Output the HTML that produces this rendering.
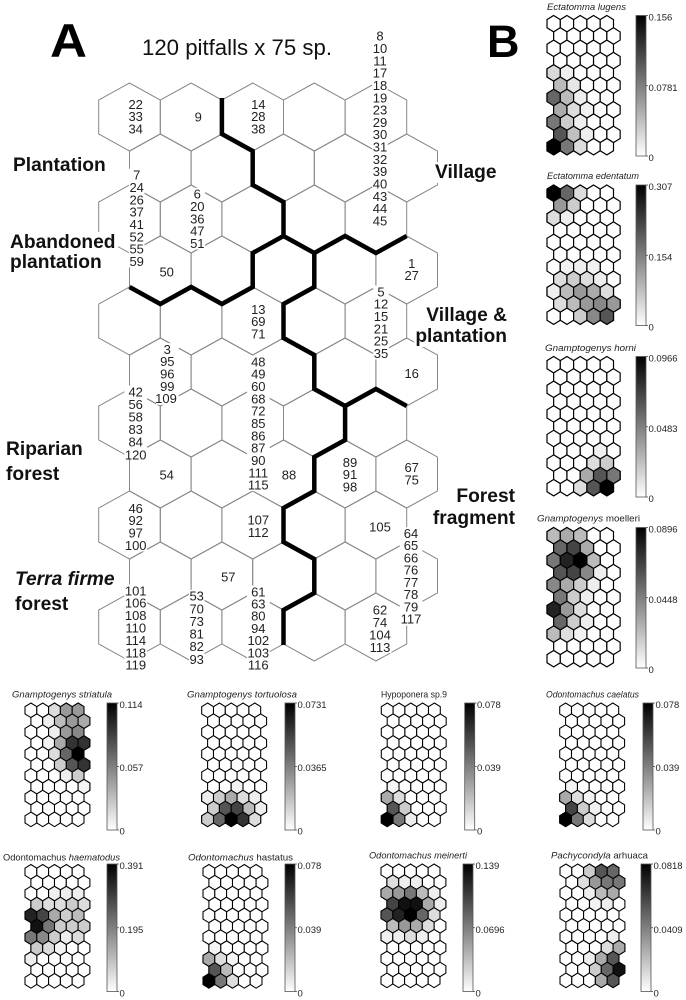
<!DOCTYPE html>
<html><head><meta charset="utf-8"><style>
html,body{margin:0;padding:0;background:#fff;}
svg{display:block;}
.n{font-family:"Liberation Sans",Arial,sans-serif;font-size:13px;fill:#222;text-anchor:middle;}
.r{font-family:"Liberation Sans",Arial,sans-serif;font-size:19.2px;font-weight:bold;fill:#111;}
.e{text-anchor:end;}
.t{font-family:"Liberation Sans",Arial,sans-serif;font-size:9.5px;fill:#222;}
.cl{font-family:"Liberation Sans",Arial,sans-serif;font-size:9.5px;fill:#222;}
.i{font-style:italic;}
</style></head><body>
<svg width="686" height="1000" viewBox="0 0 686 1000" xmlns="http://www.w3.org/2000/svg">
<defs>
<path id="H" d="M0,-34L30.8,-17L30.8,17L0,34L-30.8,17L-30.8,-17Z"/>
<g id="HR"><use href="#H" x="0"/><use href="#H" x="61.6"/><use href="#H" x="123.2"/><use href="#H" x="184.8"/><use href="#H" x="246.4"/></g>
<path id="h" d="M0,-8.2L6.65,-4.1L6.65,4.1L0,8.2L-6.65,4.1L-6.65,-4.1Z" stroke="#000" stroke-width="1.2"/>
<g id="w5"><use href="#h" x="0"/><use href="#h" x="13.3"/><use href="#h" x="26.6"/><use href="#h" x="39.9"/><use href="#h" x="53.2"/></g>
<g id="g11">
<use href="#w5" x="6.65" y="8.2"/><use href="#w5" x="13.3" y="20.5"/><use href="#w5" x="6.65" y="32.8"/><use href="#w5" x="13.3" y="45.1"/><use href="#w5" x="6.65" y="57.4"/><use href="#w5" x="13.3" y="69.7"/><use href="#w5" x="6.65" y="82"/><use href="#w5" x="13.3" y="94.3"/><use href="#w5" x="6.65" y="106.6"/><use href="#w5" x="13.3" y="118.9"/><use href="#w5" x="6.65" y="131.2"/>
</g>
<linearGradient id="cg" x1="0" y1="0" x2="0" y2="1"><stop offset="0" stop-color="#000"/><stop offset="1" stop-color="#fff"/></linearGradient>
</defs>
<rect width="686" height="1000" fill="#fff"/>

<!-- Panel A -->
<text x="50" y="57" font-family="Liberation Sans, Arial, sans-serif" font-size="47" font-weight="bold" fill="#000" textLength="37" lengthAdjust="spacingAndGlyphs">A</text>
<text x="487" y="57" font-family="Liberation Sans, Arial, sans-serif" font-size="45" font-weight="bold" fill="#000">B</text>
<text x="142" y="55" font-family="Liberation Sans, Arial, sans-serif" font-size="22" fill="#111" textLength="190" lengthAdjust="spacingAndGlyphs">120 pitfalls x 75 sp.</text>

<g fill="none" stroke="#888" stroke-width="1">
<use href="#HR" x="129.5" y="117"/>
<use href="#HR" x="160.3" y="168"/>
<use href="#HR" x="129.5" y="219"/>
<use href="#HR" x="160.3" y="270"/>
<use href="#HR" x="129.5" y="321"/>
<use href="#HR" x="160.3" y="372"/>
<use href="#HR" x="129.5" y="423"/>
<use href="#HR" x="160.3" y="474"/>
<use href="#HR" x="129.5" y="525"/>
<use href="#HR" x="160.3" y="576"/>
<use href="#HR" x="129.5" y="627"/>
</g>

<g fill="none" stroke="#000" stroke-width="4.5" stroke-linejoin="miter">
<path d="M221.9,98 V134 L252.7,151 V185 L283.5,202 V236 L252.7,253 V287 L221.9,304 L191.1,287 L160.3,304 L129.5,287"/>
<path d="M283.5,236 L314.3,253 L345.1,236 L375.9,253 L406.7,236"/>
<path d="M314.3,253 V287 L283.5,304 V338 L314.3,355 V389 L345.1,406 L375.9,389 L406.7,406"/>
<path d="M345.1,406 V440 L314.3,457 V491 L283.5,508 V542 L314.3,559 V593 L283.5,610 V645"/>
</g>

<!-- white backgrounds for number lists -->
<g fill="#fff">
<rect x="127.9" y="98.1" width="15.6" height="37"/>
<rect x="194.2" y="110.5" width="8.2" height="12.4"/>
<rect x="250.5" y="98.1" width="15.6" height="37"/>
<rect x="372.2" y="29.8" width="15.6" height="197.3"/>
<rect x="128.9" y="168.8" width="15.6" height="98.6"/>
<rect x="189.5" y="187.8" width="15.6" height="61.7"/>
<rect x="158.9" y="265.5" width="15.6" height="12.4"/>
<rect x="403.9" y="257.1" width="15.6" height="24.7"/>
<rect x="373.2" y="285.5" width="15.6" height="74"/>
<rect x="250.5" y="303.1" width="15.6" height="37"/>
<rect x="156" y="343.1" width="22.7" height="61.7"/>
<rect x="247" y="355.5" width="22.7" height="135.6"/>
<rect x="403.9" y="367.1" width="15.6" height="12.4"/>
<rect x="124.4" y="385.5" width="22.7" height="74"/>
<rect x="158.9" y="468.8" width="15.6" height="12.4"/>
<rect x="281.2" y="468.8" width="15.6" height="12.4"/>
<rect x="342.2" y="456.1" width="15.6" height="37"/>
<rect x="403.9" y="461.3" width="15.6" height="24.7"/>
<rect x="124.4" y="502.1" width="22.7" height="49.3"/>
<rect x="247" y="513.8" width="22.7" height="24.7"/>
<rect x="368.7" y="520.5" width="22.7" height="12.4"/>
<rect x="399.7" y="527.1" width="22.7" height="98.6"/>
<rect x="220.5" y="570.5" width="15.6" height="12.4"/>
<rect x="124.4" y="584.5" width="22.7" height="86.3"/>
<rect x="188.9" y="589.8" width="15.6" height="74"/>
<rect x="247" y="585.5" width="22.7" height="86.3"/>
<rect x="368.7" y="603.8" width="22.7" height="49.3"/>
</g>

<!-- number lists -->
<text class="n" y="108.9"><tspan x="135.7">22</tspan><tspan x="135.7" dy="12.33">33</tspan><tspan x="135.7" dy="12.33">34</tspan></text>
<text class="n" x="198.3" y="121.3">9</text>
<text class="n" y="108.9"><tspan x="258.3">14</tspan><tspan x="258.3" dy="12.33">28</tspan><tspan x="258.3" dy="12.33">38</tspan></text>
<text class="n" y="40.6"><tspan x="380">8</tspan><tspan x="380" dy="12.33">10</tspan><tspan x="380" dy="12.33">11</tspan><tspan x="380" dy="12.33">17</tspan><tspan x="380" dy="12.33">18</tspan><tspan x="380" dy="12.33">19</tspan><tspan x="380" dy="12.33">23</tspan><tspan x="380" dy="12.33">29</tspan><tspan x="380" dy="12.33">30</tspan><tspan x="380" dy="12.33">31</tspan><tspan x="380" dy="12.33">32</tspan><tspan x="380" dy="12.33">39</tspan><tspan x="380" dy="12.33">40</tspan><tspan x="380" dy="12.33">43</tspan><tspan x="380" dy="12.33">44</tspan><tspan x="380" dy="12.33">45</tspan></text>
<text class="n" y="179.6"><tspan x="136.7">7</tspan><tspan x="136.7" dy="12.33">24</tspan><tspan x="136.7" dy="12.33">26</tspan><tspan x="136.7" dy="12.33">37</tspan><tspan x="136.7" dy="12.33">41</tspan><tspan x="136.7" dy="12.33">52</tspan><tspan x="136.7" dy="12.33">55</tspan><tspan x="136.7" dy="12.33">59</tspan></text>
<text class="n" y="198.6"><tspan x="197.3">6</tspan><tspan x="197.3" dy="12.33">20</tspan><tspan x="197.3" dy="12.33">36</tspan><tspan x="197.3" dy="12.33">47</tspan><tspan x="197.3" dy="12.33">51</tspan></text>
<text class="n" x="166.7" y="276.3">50</text>
<text class="n" y="267.9"><tspan x="411.7">1</tspan><tspan x="411.7" dy="12.33">27</tspan></text>
<text class="n" y="296.3"><tspan x="381">5</tspan><tspan x="381" dy="12.33">12</tspan><tspan x="381" dy="12.33">15</tspan><tspan x="381" dy="12.33">21</tspan><tspan x="381" dy="12.33">25</tspan><tspan x="381" dy="12.33">35</tspan></text>
<text class="n" y="313.9"><tspan x="258.3">13</tspan><tspan x="258.3" dy="12.33">69</tspan><tspan x="258.3" dy="12.33">71</tspan></text>
<text class="n" y="353.9"><tspan x="167.3">3</tspan><tspan x="167.3" dy="12.33">95</tspan><tspan x="167.3" dy="12.33">96</tspan><tspan x="167.3" dy="12.33">99</tspan><tspan x="166" dy="12.33">109</tspan></text>
<text class="n" y="366.3"><tspan x="258.3">48</tspan><tspan x="258.3" dy="12.33">49</tspan><tspan x="258.3" dy="12.33">60</tspan><tspan x="258.3" dy="12.33">68</tspan><tspan x="258.3" dy="12.33">72</tspan><tspan x="258.3" dy="12.33">85</tspan><tspan x="258.3" dy="12.33">86</tspan><tspan x="258.3" dy="12.33">87</tspan><tspan x="258.3" dy="12.33">90</tspan><tspan x="258.3" dy="12.33">111</tspan><tspan x="258.3" dy="12.33">115</tspan></text>
<text class="n" x="411.7" y="377.9">16</text>
<text class="n" y="396.3"><tspan x="135.7">42</tspan><tspan x="135.7" dy="12.6">56</tspan><tspan x="135.7" dy="12.6">58</tspan><tspan x="135.7" dy="12.6">83</tspan><tspan x="135.7" dy="12.6">84</tspan><tspan x="135.7" dy="12.6">120</tspan></text>
<text class="n" x="166.7" y="479.6">54</text>
<text class="n" x="289" y="479.6">88</text>
<text class="n" y="466.9"><tspan x="350">89</tspan><tspan x="350" dy="12.33">91</tspan><tspan x="350" dy="12.33">98</tspan></text>
<text class="n" y="472.1"><tspan x="411.7">67</tspan><tspan x="411.7" dy="12.33">75</tspan></text>
<text class="n" y="512.9"><tspan x="135.7">46</tspan><tspan x="135.7" dy="12.33">92</tspan><tspan x="135.7" dy="12.33">97</tspan><tspan x="135.7" dy="12.33">100</tspan></text>
<text class="n" y="524.6"><tspan x="258.3">107</tspan><tspan x="258.3" dy="12.33">112</tspan></text>
<text class="n" x="380" y="531.3">105</text>
<text class="n" y="537.9"><tspan x="411">64</tspan><tspan x="411" dy="12.25">65</tspan><tspan x="411" dy="12.25">66</tspan><tspan x="411" dy="12.25">76</tspan><tspan x="411" dy="12.25">77</tspan><tspan x="411" dy="12.25">78</tspan><tspan x="411" dy="12.25">79</tspan><tspan x="411" dy="12.25">117</tspan></text>
<text class="n" x="228.3" y="581.3">57</text>
<text class="n" y="595.3"><tspan x="135.7">101</tspan><tspan x="135.7" dy="12.4">106</tspan><tspan x="135.7" dy="12.4">108</tspan><tspan x="135.7" dy="12.4">110</tspan><tspan x="135.7" dy="12.4">114</tspan><tspan x="135.7" dy="12.4">118</tspan><tspan x="135.7" dy="12.4">119</tspan></text>
<text class="n" y="600.6"><tspan x="196.7">53</tspan><tspan x="196.7" dy="12.66">70</tspan><tspan x="196.7" dy="12.66">73</tspan><tspan x="196.7" dy="12.66">81</tspan><tspan x="196.7" dy="12.66">82</tspan><tspan x="196.7" dy="12.66">93</tspan></text>
<text class="n" y="596.3"><tspan x="258.3">61</tspan><tspan x="258.3" dy="12.22">63</tspan><tspan x="258.3" dy="12.22">80</tspan><tspan x="258.3" dy="12.22">94</tspan><tspan x="258.3" dy="12.22">102</tspan><tspan x="258.3" dy="12.22">103</tspan><tspan x="258.3" dy="12.22">116</tspan></text>
<text class="n" y="614.6"><tspan x="380">62</tspan><tspan x="380" dy="12.4">74</tspan><tspan x="380" dy="12.4">104</tspan><tspan x="380" dy="12.4">113</tspan></text>

<!-- region labels -->
<g fill="#fff">
<rect x="11" y="155" width="98" height="19"/>
<rect x="8" y="232" width="110" height="19"/>
<rect x="8" y="252" width="96" height="21"/>
<rect x="4" y="439" width="81" height="21"/>
<rect x="4" y="464" width="57" height="19"/>
<rect x="13" y="569" width="104" height="20"/>
<rect x="13" y="594" width="57" height="19"/>
<rect x="433" y="162" width="66" height="21"/>
<rect x="424" y="306" width="85" height="19"/>
<rect x="414" y="326" width="95" height="21"/>
<rect x="455" y="487" width="62" height="18"/>
<rect x="431" y="508" width="86" height="21"/>
</g>
<text class="r" x="13" y="171">Plantation</text>
<text class="r" x="10" y="248">Abandoned</text>
<text class="r" x="10" y="268">plantation</text>
<text class="r" x="6" y="455">Riparian</text>
<text class="r" x="6" y="480">forest</text>
<text class="r i" x="15" y="585">Terra firme</text>
<text class="r" x="15" y="610">forest</text>
<text class="r" x="435" y="178">Village</text>
<text class="r e" x="507" y="321">Village &amp;</text>
<text class="r e" x="507" y="342">plantation</text>
<text class="r e" x="515" y="502">Forest</text>
<text class="r e" x="515" y="524">fragment</text>

<!-- Panel B maps: right column -->
<g transform="translate(547,15.5)" fill="#fff"><use href="#g11"/>
<use href="#h" x="6.65" y="57.4" fill="#d9d9d9"/><use href="#h" x="19.95" y="57.4" fill="#eee"/>
<use href="#h" x="13.3" y="69.7" fill="#bbb"/><use href="#h" x="26.6" y="69.7" fill="#e6e6e6"/>
<use href="#h" x="6.65" y="82" fill="#666"/><use href="#h" x="19.95" y="82" fill="#bbb"/><use href="#h" x="33.25" y="82" fill="#eee"/>
<use href="#h" x="13.3" y="94.3" fill="#aaa"/><use href="#h" x="26.6" y="94.3" fill="#ddd"/><use href="#h" x="39.9" y="94.3" fill="#f2f2f2"/>
<use href="#h" x="6.65" y="106.6" fill="#777"/><use href="#h" x="19.95" y="106.6" fill="#ccc"/><use href="#h" x="33.25" y="106.6" fill="#eee"/>
<use href="#h" x="13.3" y="118.9" fill="#555"/><use href="#h" x="26.6" y="118.9" fill="#c0c0c0"/><use href="#h" x="39.9" y="118.9" fill="#eee"/>
<use href="#h" x="6.65" y="131.2" fill="#000"/><use href="#h" x="19.95" y="131.2" fill="#777"/><use href="#h" x="33.25" y="131.2" fill="#ddd"/>
</g>
<g transform="translate(547,185)" fill="#fff"><use href="#g11"/>
<use href="#h" x="6.65" y="8.2" fill="#000"/><use href="#h" x="19.95" y="8.2" fill="#666"/><use href="#h" x="33.25" y="8.2" fill="#ddd"/>
<use href="#h" x="13.3" y="20.5" fill="#999"/><use href="#h" x="26.6" y="20.5" fill="#ccc"/>
<use href="#h" x="6.65" y="32.8" fill="#ddd"/><use href="#h" x="19.95" y="32.8" fill="#eee"/>
<use href="#h" x="19.95" y="82" fill="#f0f0f0"/><use href="#h" x="33.25" y="82" fill="#eee"/><use href="#h" x="46.55" y="82" fill="#f2f2f2"/>
<use href="#h" x="13.3" y="94.3" fill="#ddd"/><use href="#h" x="26.6" y="94.3" fill="#ccc"/><use href="#h" x="39.9" y="94.3" fill="#ddd"/><use href="#h" x="53.2" y="94.3" fill="#eee"/>
<use href="#h" x="6.65" y="106.6" fill="#eee"/><use href="#h" x="19.95" y="106.6" fill="#bbb"/><use href="#h" x="33.25" y="106.6" fill="#999"/><use href="#h" x="46.55" y="106.6" fill="#aaa"/><use href="#h" x="59.85" y="106.6" fill="#ddd"/>
<use href="#h" x="13.3" y="118.9" fill="#ddd"/><use href="#h" x="26.6" y="118.9" fill="#bbb"/><use href="#h" x="39.9" y="118.9" fill="#999"/><use href="#h" x="53.2" y="118.9" fill="#888"/><use href="#h" x="66.5" y="118.9" fill="#999"/>
<use href="#h" x="33.25" y="131.2" fill="#ccc"/><use href="#h" x="46.55" y="131.2" fill="#888"/><use href="#h" x="59.85" y="131.2" fill="#555"/>
</g>
<g transform="translate(547,356.5)" fill="#fff"><use href="#g11"/>
<use href="#h" x="53.2" y="94.3" fill="#f0f0f0"/>
<use href="#h" x="46.55" y="106.6" fill="#ddd"/><use href="#h" x="59.85" y="106.6" fill="#ccc"/>
<use href="#h" x="39.9" y="118.9" fill="#aaa"/><use href="#h" x="53.2" y="118.9" fill="#555"/><use href="#h" x="66.5" y="118.9" fill="#777"/>
<use href="#h" x="33.25" y="131.2" fill="#ddd"/><use href="#h" x="46.55" y="131.2" fill="#555"/><use href="#h" x="59.85" y="131.2" fill="#000"/>
</g>
<g transform="translate(547,527.5)" fill="#fff"><use href="#g11"/>
<use href="#h" x="6.65" y="8.2" fill="#bbb"/><use href="#h" x="19.95" y="8.2" fill="#aaa"/><use href="#h" x="33.25" y="8.2" fill="#bbb"/>
<use href="#h" x="13.3" y="20.5" fill="#666"/><use href="#h" x="26.6" y="20.5" fill="#444"/><use href="#h" x="39.9" y="20.5" fill="#aaa"/>
<use href="#h" x="6.65" y="32.8" fill="#777"/><use href="#h" x="19.95" y="32.8" fill="#222"/><use href="#h" x="33.25" y="32.8" fill="#000"/><use href="#h" x="46.55" y="32.8" fill="#bbb"/>
<use href="#h" x="13.3" y="45.1" fill="#555"/><use href="#h" x="26.6" y="45.1" fill="#444"/><use href="#h" x="39.9" y="45.1" fill="#888"/><use href="#h" x="53.2" y="45.1" fill="#eee"/>
<use href="#h" x="6.65" y="57.4" fill="#888"/><use href="#h" x="19.95" y="57.4" fill="#aaa"/><use href="#h" x="33.25" y="57.4" fill="#ccc"/><use href="#h" x="46.55" y="57.4" fill="#eee"/>
<use href="#h" x="13.3" y="69.7" fill="#777"/><use href="#h" x="26.6" y="69.7" fill="#ccc"/><use href="#h" x="39.9" y="69.7" fill="#eee"/>
<use href="#h" x="6.65" y="82" fill="#222"/><use href="#h" x="19.95" y="82" fill="#999"/><use href="#h" x="33.25" y="82" fill="#ddd"/>
<use href="#h" x="13.3" y="94.3" fill="#666"/><use href="#h" x="26.6" y="94.3" fill="#ccc"/><use href="#h" x="39.9" y="94.3" fill="#eee"/>
<use href="#h" x="6.65" y="106.6" fill="#bbb"/><use href="#h" x="19.95" y="106.6" fill="#ddd"/><use href="#h" x="33.25" y="106.6" fill="#f2f2f2"/>
</g>

<!-- bottom row 1 -->
<g transform="translate(25,703) scale(.887)" fill="#fff"><use href="#g11"/>
<use href="#h" x="33.25" y="8.2" fill="#ddd"/><use href="#h" x="46.55" y="8.2" fill="#999"/><use href="#h" x="59.85" y="8.2" fill="#999"/>
<use href="#h" x="26.6" y="20.5" fill="#eee"/><use href="#h" x="39.9" y="20.5" fill="#bbb"/><use href="#h" x="53.2" y="20.5" fill="#999"/><use href="#h" x="66.5" y="20.5" fill="#aaa"/>
<use href="#h" x="33.25" y="32.8" fill="#eee"/><use href="#h" x="46.55" y="32.8" fill="#999"/><use href="#h" x="59.85" y="32.8" fill="#888"/>
<use href="#h" x="26.6" y="45.1" fill="#f2f2f2"/><use href="#h" x="39.9" y="45.1" fill="#aaa"/><use href="#h" x="53.2" y="45.1" fill="#333"/><use href="#h" x="66.5" y="45.1" fill="#333"/>
<use href="#h" x="33.25" y="57.4" fill="#ddd"/><use href="#h" x="46.55" y="57.4" fill="#666"/><use href="#h" x="59.85" y="57.4" fill="#000"/>
<use href="#h" x="39.9" y="69.7" fill="#ccc"/><use href="#h" x="53.2" y="69.7" fill="#555"/><use href="#h" x="66.5" y="69.7" fill="#333"/>
<use href="#h" x="46.55" y="82" fill="#eee"/><use href="#h" x="59.85" y="82" fill="#ccc"/>
<use href="#h" x="66.5" y="94.3" fill="#f4f4f4"/>
</g>
<g transform="translate(201.7,703) scale(.887)" fill="#fff"><use href="#g11"/>
<use href="#h" x="39.9" y="94.3" fill="#f2f2f2"/>
<use href="#h" x="6.65" y="106.6" fill="#eee"/><use href="#h" x="19.95" y="106.6" fill="#ccc"/><use href="#h" x="33.25" y="106.6" fill="#aaa"/><use href="#h" x="46.55" y="106.6" fill="#ddd"/><use href="#h" x="59.85" y="106.6" fill="#eee"/>
<use href="#h" x="13.3" y="118.9" fill="#ccc"/><use href="#h" x="26.6" y="118.9" fill="#555"/><use href="#h" x="39.9" y="118.9" fill="#444"/><use href="#h" x="53.2" y="118.9" fill="#bbb"/><use href="#h" x="66.5" y="118.9" fill="#eee"/>
<use href="#h" x="6.65" y="131.2" fill="#ccc"/><use href="#h" x="19.95" y="131.2" fill="#666"/><use href="#h" x="33.25" y="131.2" fill="#000"/><use href="#h" x="46.55" y="131.2" fill="#333"/><use href="#h" x="59.85" y="131.2" fill="#ddd"/>
</g>
<g transform="translate(381.3,703) scale(.887)" fill="#fff"><use href="#g11"/>
<use href="#h" x="13.3" y="94.3" fill="#f4f4f4"/>
<use href="#h" x="6.65" y="106.6" fill="#aaa"/><use href="#h" x="19.95" y="106.6" fill="#ddd"/>
<use href="#h" x="13.3" y="118.9" fill="#555"/><use href="#h" x="26.6" y="118.9" fill="#ccc"/>
<use href="#h" x="6.65" y="131.2" fill="#000"/><use href="#h" x="19.95" y="131.2" fill="#777"/><use href="#h" x="33.25" y="131.2" fill="#eee"/>
</g>
<g transform="translate(559.7,703) scale(.887)" fill="#fff"><use href="#g11"/>
<use href="#h" x="13.3" y="94.3" fill="#f4f4f4"/>
<use href="#h" x="6.65" y="106.6" fill="#aaa"/><use href="#h" x="19.95" y="106.6" fill="#ddd"/><use href="#h" x="33.25" y="106.6" fill="#f4f4f4"/>
<use href="#h" x="13.3" y="118.9" fill="#444"/><use href="#h" x="26.6" y="118.9" fill="#ccc"/><use href="#h" x="39.9" y="118.9" fill="#f0f0f0"/>
<use href="#h" x="6.65" y="131.2" fill="#000"/><use href="#h" x="19.95" y="131.2" fill="#777"/><use href="#h" x="33.25" y="131.2" fill="#ddd"/>
</g>

<!-- bottom row 2 -->
<g transform="translate(25,864.5) scale(.887)" fill="#fff"><use href="#g11"/>
<use href="#h" x="33.25" y="32.8" fill="#f0f0f0"/><use href="#h" x="46.55" y="32.8" fill="#eee"/><use href="#h" x="59.85" y="32.8" fill="#eee"/>
<use href="#h" x="13.3" y="45.1" fill="#ccc"/><use href="#h" x="26.6" y="45.1" fill="#ddd"/><use href="#h" x="39.9" y="45.1" fill="#ddd"/><use href="#h" x="53.2" y="45.1" fill="#ccc"/><use href="#h" x="66.5" y="45.1" fill="#ddd"/>
<use href="#h" x="6.65" y="57.4" fill="#222"/><use href="#h" x="19.95" y="57.4" fill="#444"/><use href="#h" x="33.25" y="57.4" fill="#aaa"/><use href="#h" x="46.55" y="57.4" fill="#ccc"/><use href="#h" x="59.85" y="57.4" fill="#bbb"/>
<use href="#h" x="13.3" y="69.7" fill="#111"/><use href="#h" x="26.6" y="69.7" fill="#777"/><use href="#h" x="39.9" y="69.7" fill="#ccc"/><use href="#h" x="53.2" y="69.7" fill="#ccc"/><use href="#h" x="66.5" y="69.7" fill="#ccc"/>
<use href="#h" x="6.65" y="82" fill="#777"/><use href="#h" x="19.95" y="82" fill="#888"/><use href="#h" x="33.25" y="82" fill="#ccc"/><use href="#h" x="46.55" y="82" fill="#eee"/><use href="#h" x="59.85" y="82" fill="#ddd"/>
<use href="#h" x="13.3" y="94.3" fill="#ccc"/><use href="#h" x="26.6" y="94.3" fill="#ddd"/><use href="#h" x="39.9" y="94.3" fill="#f4f4f4"/>
<use href="#h" x="6.65" y="106.6" fill="#eee"/>
</g>
<g transform="translate(203,864.5) scale(.887)" fill="#fff"><use href="#g11"/>
<use href="#h" x="13.3" y="94.3" fill="#f4f4f4"/>
<use href="#h" x="6.65" y="106.6" fill="#aaa"/><use href="#h" x="19.95" y="106.6" fill="#ddd"/><use href="#h" x="33.25" y="106.6" fill="#f4f4f4"/>
<use href="#h" x="13.3" y="118.9" fill="#555"/><use href="#h" x="26.6" y="118.9" fill="#bbb"/>
<use href="#h" x="6.65" y="131.2" fill="#000"/><use href="#h" x="19.95" y="131.2" fill="#777"/><use href="#h" x="33.25" y="131.2" fill="#ddd"/>
</g>
<g transform="translate(381,864) scale(.887)" fill="#fff"><use href="#g11"/>
<use href="#h" x="13.3" y="20.5" fill="#ddd"/><use href="#h" x="26.6" y="20.5" fill="#eee"/><use href="#h" x="39.9" y="20.5" fill="#eee"/>
<use href="#h" x="6.65" y="32.8" fill="#aaa"/><use href="#h" x="19.95" y="32.8" fill="#999"/><use href="#h" x="33.25" y="32.8" fill="#777"/><use href="#h" x="46.55" y="32.8" fill="#bbb"/><use href="#h" x="59.85" y="32.8" fill="#eee"/>
<use href="#h" x="13.3" y="45.1" fill="#444"/><use href="#h" x="26.6" y="45.1" fill="#111"/><use href="#h" x="39.9" y="45.1" fill="#111"/><use href="#h" x="53.2" y="45.1" fill="#aaa"/><use href="#h" x="66.5" y="45.1" fill="#eee"/>
<use href="#h" x="6.65" y="57.4" fill="#555"/><use href="#h" x="19.95" y="57.4" fill="#222"/><use href="#h" x="33.25" y="57.4" fill="#000"/><use href="#h" x="46.55" y="57.4" fill="#666"/><use href="#h" x="59.85" y="57.4" fill="#ddd"/>
<use href="#h" x="13.3" y="69.7" fill="#bbb"/><use href="#h" x="26.6" y="69.7" fill="#999"/><use href="#h" x="39.9" y="69.7" fill="#aaa"/><use href="#h" x="53.2" y="69.7" fill="#ddd"/>
<use href="#h" x="6.65" y="82" fill="#f0f0f0"/><use href="#h" x="19.95" y="82" fill="#eee"/><use href="#h" x="33.25" y="82" fill="#ddd"/><use href="#h" x="46.55" y="82" fill="#eee"/>
</g>
<g transform="translate(560,864) scale(.887)" fill="#fff"><use href="#g11"/>
<use href="#h" x="33.25" y="8.2" fill="#ccc"/><use href="#h" x="46.55" y="8.2" fill="#555"/><use href="#h" x="59.85" y="8.2" fill="#666"/>
<use href="#h" x="26.6" y="20.5" fill="#ddd"/><use href="#h" x="39.9" y="20.5" fill="#999"/><use href="#h" x="53.2" y="20.5" fill="#777"/><use href="#h" x="66.5" y="20.5" fill="#777"/>
<use href="#h" x="33.25" y="32.8" fill="#eee"/><use href="#h" x="46.55" y="32.8" fill="#bbb"/><use href="#h" x="59.85" y="32.8" fill="#aaa"/>
<use href="#h" x="39.9" y="45.1" fill="#f2f2f2"/><use href="#h" x="53.2" y="45.1" fill="#eee"/>
<use href="#h" x="59.85" y="82" fill="#eee"/>
<use href="#h" x="53.2" y="94.3" fill="#ddd"/><use href="#h" x="66.5" y="94.3" fill="#aaa"/>
<use href="#h" x="33.25" y="106.6" fill="#eee"/><use href="#h" x="46.55" y="106.6" fill="#aaa"/><use href="#h" x="59.85" y="106.6" fill="#555"/>
<use href="#h" x="39.9" y="118.9" fill="#ccc"/><use href="#h" x="53.2" y="118.9" fill="#666"/><use href="#h" x="66.5" y="118.9" fill="#111"/>
<use href="#h" x="46.55" y="131.2" fill="#aaa"/><use href="#h" x="59.85" y="131.2" fill="#555"/>
</g>

<!-- colorbars -->
<g fill="url(#cg)" stroke="#555" stroke-width=".8">
<rect x="636" y="15.5" width="10" height="140.5"/>
<rect x="636" y="185" width="10" height="140.5"/>
<rect x="636" y="356.5" width="10" height="140.5"/>
<rect x="636" y="527.5" width="10" height="140.5"/>
<rect x="107" y="703" width="10" height="127"/>
<rect x="285" y="703" width="10" height="127"/>
<rect x="464.7" y="703" width="10" height="127"/>
<rect x="643" y="703" width="10" height="127"/>
<rect x="107" y="864" width="10" height="127.5"/>
<rect x="285" y="864" width="10" height="127.5"/>
<rect x="463" y="864" width="10" height="127.5"/>
<rect x="641" y="864" width="10" height="127.5"/>
</g>
<g stroke="#444" stroke-width=".8" fill="none">
<path d="M646,15.5h2M646,85.75h2M646,156h2 M646,185h2M646,255.25h2M646,325.5h2 M646,356.5h2M646,426.75h2M646,497h2 M646,527.5h2M646,597.75h2M646,668h2"/>
<path d="M117,703h2M117,766.5h2M117,830h2 M295,703h2M295,766.5h2M295,830h2 M474.7,703h2M474.7,766.5h2M474.7,830h2 M653,703h2M653,766.5h2M653,830h2"/>
<path d="M117,864h2M117,927.75h2M117,991.5h2 M295,864h2M295,927.75h2M295,991.5h2 M473,864h2M473,927.75h2M473,991.5h2 M651,864h2M651,927.75h2M651,991.5h2"/>
</g>

<!-- colorbar labels -->
<text class="cl" x="648.5" y="20.5">0.156</text><text class="cl" x="648.5" y="90.75">0.0781</text><text class="cl" x="648.5" y="161">0</text>
<text class="cl" x="648.5" y="190">0.307</text><text class="cl" x="648.5" y="260.25">0.154</text><text class="cl" x="648.5" y="330.5">0</text>
<text class="cl" x="648.5" y="361.5">0.0966</text><text class="cl" x="648.5" y="431.75">0.0483</text><text class="cl" x="648.5" y="502">0</text>
<text class="cl" x="648.5" y="532.5">0.0896</text><text class="cl" x="648.5" y="602.75">0.0448</text><text class="cl" x="648.5" y="673">0</text>
<text class="cl" x="119.5" y="708">0.114</text><text class="cl" x="119.5" y="771">0.057</text><text class="cl" x="119.5" y="834.5">0</text>
<text class="cl" x="297.5" y="708">0.0731</text><text class="cl" x="297.5" y="771">0.0365</text><text class="cl" x="297.5" y="834.5">0</text>
<text class="cl" x="477" y="708">0.078</text><text class="cl" x="477" y="771">0.039</text><text class="cl" x="477" y="834.5">0</text>
<text class="cl" x="655.5" y="708">0.078</text><text class="cl" x="655.5" y="771">0.039</text><text class="cl" x="655.5" y="834.5">0</text>
<text class="cl" x="119.5" y="869">0.391</text><text class="cl" x="119.5" y="933">0.195</text><text class="cl" x="119.5" y="996.5">0</text>
<text class="cl" x="297.5" y="869">0.078</text><text class="cl" x="297.5" y="933">0.039</text><text class="cl" x="297.5" y="996.5">0</text>
<text class="cl" x="475.5" y="869">0.139</text><text class="cl" x="475.5" y="933">0.0696</text><text class="cl" x="475.5" y="996.5">0</text>
<text class="cl" x="653.5" y="869">0.0818</text><text class="cl" x="653.5" y="933">0.0409</text><text class="cl" x="653.5" y="996.5">0</text>

<!-- map titles -->
<text class="t i" x="547" y="10" textLength="79" lengthAdjust="spacingAndGlyphs">Ectatomma lugens</text>
<text class="t i" x="547" y="179" textLength="92" lengthAdjust="spacingAndGlyphs">Ectatomma edentatum</text>
<text class="t i" x="545" y="351" textLength="91" lengthAdjust="spacingAndGlyphs">Gnamptogenys horni</text>
<text class="t" x="537" y="521.5" textLength="103" lengthAdjust="spacingAndGlyphs"><tspan class="i">Gnamptogenys</tspan> moelleri</text>
<text class="t i" x="12" y="697.5" textLength="100" lengthAdjust="spacingAndGlyphs">Gnamptogenys striatula</text>
<text class="t i" x="187" y="697.5" textLength="110" lengthAdjust="spacingAndGlyphs">Gnamptogenys tortuolosa</text>
<text class="t" x="381" y="697.5" textLength="66" lengthAdjust="spacingAndGlyphs">Hypoponera sp.9</text>
<text class="t i" x="546" y="697.5" textLength="93" lengthAdjust="spacingAndGlyphs">Odontomachus caelatus</text>
<text class="t" x="3" y="860.5" textLength="117" lengthAdjust="spacingAndGlyphs">Odontomachus <tspan class="i">haematodus</tspan></text>
<text class="t" x="188" y="860.5" textLength="105" lengthAdjust="spacingAndGlyphs"><tspan class="i">Odontomachus</tspan> hastatus</text>
<text class="t i" x="369" y="858.5" textLength="98" lengthAdjust="spacingAndGlyphs">Odontomachus meinerti</text>
<text class="t" x="551" y="858.5" textLength="97" lengthAdjust="spacingAndGlyphs"><tspan class="i">Pachycondyla</tspan> arhuaca</text>
</svg>
</body></html>
